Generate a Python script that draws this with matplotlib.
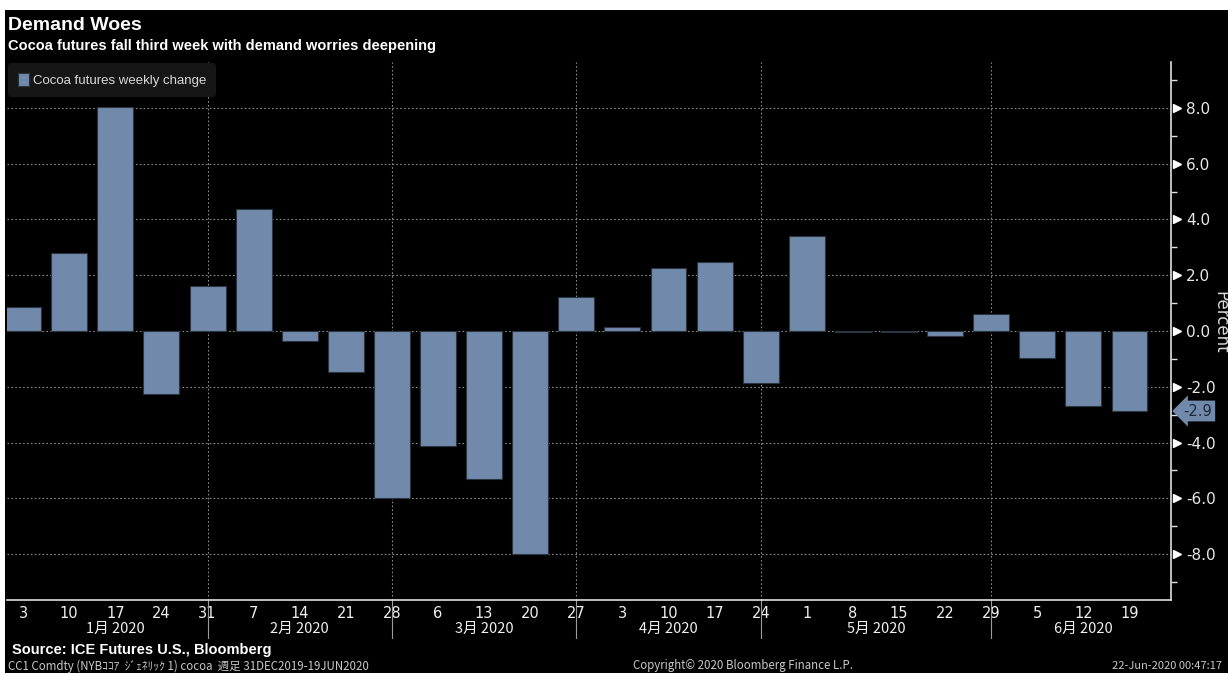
import numpy as np
import matplotlib
matplotlib.use('Agg')
import matplotlib.pyplot as plt
from matplotlib.patches import Rectangle

# Weekly change of cocoa futures (percent), week ending Friday
week_labels = ['3', '10', '17', '24', '31', '7', '14', '21', '28', '6', '13', '20', '27',
               '3', '10', '17', '24', '1', '8', '15', '22', '29', '5', '12', '19']
weekly_change = [0.86, 2.8, 8.03, -2.26, 1.61, 4.37, -0.36, -1.47, -5.99, -4.12, -5.3, -8.0, 1.22,
                 0.14, 2.26, 2.47, -1.86, 3.4, -0.05, -0.02, -0.18, 0.6, -0.97, -2.69, -2.87]
month_labels = ['1月 2020', '2月 2020', '3月 2020', '4月 2020', '5月 2020', '6月 2020']
month_centers = [2.0, 6.0, 10.0, 14.0, 18.5, 23.0]
month_breaks = [4, 8, 12, 16, 21]
last_label = '-2.9'

bar_color = '#7189ab'
cjk = ['Noto Sans CJK JP', 'DejaVu Sans']
head = ['Liberation Sans', 'DejaVu Sans']

fig = plt.figure(figsize=(12.28, 6.73), dpi=100)
fig.patch.set_facecolor('white')
fig.add_artist(Rectangle((5 / 1228, 0), 1, 1 - 10 / 673, transform=fig.transFigure,
                         facecolor='black', edgecolor='none', zorder=0))

ax = fig.add_axes([7 / 1228, 1 - 600 / 673, (1171 - 7) / 1228, (600 - 62) / 673])
ax.set_facecolor('black')

x = np.arange(len(weekly_change))
ax.bar(x, weekly_change, width=0.78, color=bar_color, edgecolor='#2b3442',
       linewidth=0.8, zorder=3, label='Cocoa futures weekly change')

ax.set_xlim(-0.35, 24.9)
ax.set_ylim(-9.65, 9.65)

# grid
for v in np.arange(-8, 9, 2):
    ax.axhline(v, color='#8a8a8a', linestyle=(0, (1.5, 2)), linewidth=0.8, zorder=1)
for b in month_breaks:
    ax.axvline(b, color='#8a8a8a', linestyle=(0, (1.5, 2)), linewidth=0.8, zorder=1)

# spines
for s in ['left', 'top']:
    ax.spines[s].set_visible(False)
ax.spines['right'].set_color('#e0e0e0')
ax.spines['bottom'].set_color('#e0e0e0')
ax.spines['right'].set_linewidth(1.2)
ax.spines['bottom'].set_linewidth(1.2)

# y axis on the right
ax.yaxis.tick_right()
ax.set_yticks(np.arange(-8, 9, 2))
ax.set_yticklabels([f'{v:.1f}' for v in np.arange(-8, 9, 2)])
ax.set_yticks(np.arange(-9, 10, 2), minor=True)
ax.tick_params(axis='y', which='major', length=0, pad=11, labelsize=11, colors='#e8e8e8')
ax.tick_params(axis='y', which='minor', length=4, direction='out', color='#e0e0e0', width=1)
ax.plot([1.0055] * 9, np.arange(-8, 9, 2), marker='>', markersize=6, linestyle='none',
        color='white', transform=ax.get_yaxis_transform(), clip_on=False, zorder=5)
fig.text(1220 / 1228, 1 - 322 / 673, 'Percent', rotation=270, color='#d8d8d8',
         fontsize=12, ha='center', va='center')

# x axis
ax.set_xticks(x)
ax.set_xticklabels(week_labels)
ax.tick_params(axis='x', length=0, pad=4, labelsize=10.5, colors='#f0f0f0')
for c, lab in zip(month_centers, month_labels):
    ax.text(c, -0.053, lab, transform=ax.get_xaxis_transform(), ha='center', va='center',
            color='#f0f0f0', fontsize=10.5, family=cjk)
for b in month_breaks:
    ax.plot([b, b], [0, -0.07], transform=ax.get_xaxis_transform(), color='#9a9a9a',
            linewidth=0.8, clip_on=False)

# last value tag
ax.annotate(last_label, xy=(1.0, weekly_change[-1]), xycoords=ax.get_yaxis_transform(),
            xytext=(9, 0), textcoords='offset points', ha='left', va='center',
            fontsize=10.5, color='#1f2a38',
            bbox=dict(boxstyle='larrow,pad=0.2', facecolor=bar_color, edgecolor='none'),
            annotation_clip=False)

# legend
leg = ax.legend(loc='upper left', frameon=True, handlelength=0.8,
                handleheight=1.1, handletextpad=0.3, borderpad=0.75, borderaxespad=0.1,
                bbox_to_anchor=(0.0, 1.0), prop={'family': head, 'size': 9.5})
leg.get_frame().set_facecolor('#161616')
leg.get_frame().set_edgecolor('none')
leg.get_frame().set_alpha(1)
for t in leg.get_texts():
    t.set_color('#d8d8d8')

# titles and footer
fig.text(8 / 1228, 1 - 25 / 673, 'Demand Woes', color='white', fontsize=14,
         fontweight='bold', va='center', ha='left', family=head)
fig.text(8 / 1228, 1 - 46 / 673, 'Cocoa futures fall third week with demand worries deepening',
         color='white', fontsize=10.5, fontweight='bold', va='center', ha='left', family=head)
fig.text(12 / 1228, 1 - 650 / 673, 'Source: ICE Futures U.S., Bloomberg', color='white',
         fontsize=10.5, fontweight='bold', va='center', ha='left', family=head)
fig.text(8 / 1228, 1 - 666 / 673, 'CC1 Comdty (NYBｺｺｱ  ｼﾞｪﾈﾘｯｸ 1) cocoa  週足 31DEC2019-19JUN2020',
         color='#c8c8c8', fontsize=8.3, va='center', ha='left', family=cjk)
fig.text(633 / 1228, 1 - 666 / 673, 'Copyright© 2020 Bloomberg Finance L.P.',
         color='#c8c8c8', fontsize=8.3, va='center', ha='left', family=cjk)
fig.text(1222 / 1228, 1 - 666 / 673, '22-Jun-2020 00:47:17',
         color='#c8c8c8', fontsize=8, va='center', ha='right', family=cjk)

fig.savefig('out.png', dpi=100, facecolor=fig.get_facecolor())
